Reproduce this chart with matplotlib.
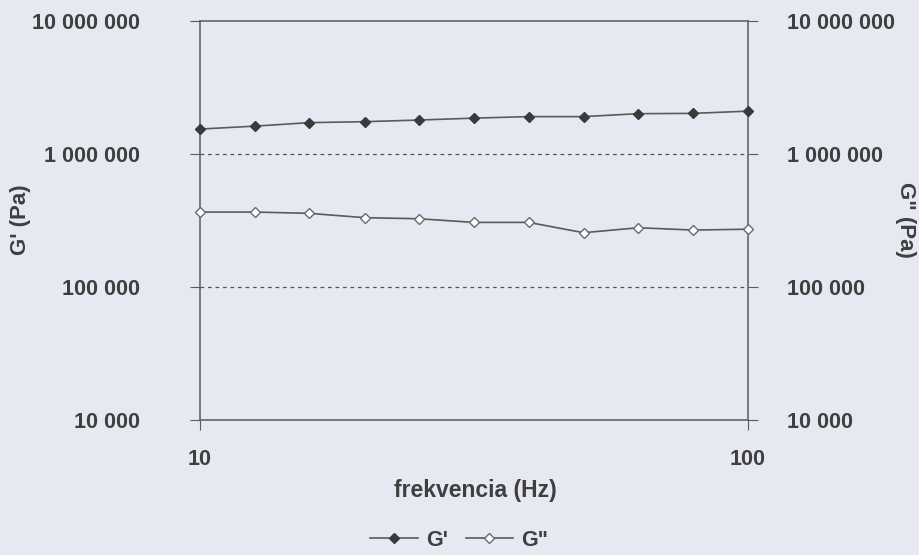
import matplotlib.pyplot as plt
from matplotlib.ticker import FixedLocator, FixedFormatter, NullLocator
import numpy as np

# frequency sweep (log-spaced points)
freq = [10, 12.6, 15.8, 20.0, 25.1, 31.6, 39.8, 50.1, 63.1, 79.4, 100]
g_storage = [1540000, 1620000, 1720000, 1750000, 1800000, 1860000,
             1910000, 1910000, 2010000, 2020000, 2100000]
g_loss = [366000, 366000, 358000, 332000, 326000, 306000,
          306000, 256000, 279000, 268000, 272000]

y_ticks = [1e4, 1e5, 1e6, 1e7]
y_labels = ['10 000', '100 000', '1 000 000', '10 000 000']
x_ticks = [10, 100]
x_labels = ['10', '100']

bg = '#e7e9f2'
ink = '#3f3f3f'
line_col = '#5a5a5a'

plt.rcParams['font.family'] = ['Liberation Sans', 'DejaVu Sans']
plt.rcParams['font.weight'] = 'bold'

fig = plt.figure(figsize=(9.19, 5.55), dpi=100, facecolor=bg)
ax = fig.add_axes([0.2176, 0.2432, 0.5964, 0.7190])
ax.set_facecolor(bg)

ax.plot(freq, g_storage, color=line_col, lw=1.2, marker='D', ms=5.6,
        mfc='#3a3a3a', mec='#3a3a3a', label="G'", clip_on=False, zorder=4)
ax.plot(freq, g_loss, color=line_col, lw=1.2, marker='D', ms=5.6,
        mfc='white', mec='#6a6a6a', mew=1.0, label='G"', clip_on=False,
        zorder=4)

ax.set_xscale('log')
ax.set_yscale('log')
ax.set_xlim(10, 100)
ax.set_ylim(1e4, 1e7)

ax.xaxis.set_major_locator(FixedLocator(x_ticks))
ax.xaxis.set_major_formatter(FixedFormatter(x_labels))
ax.xaxis.set_minor_locator(NullLocator())
ax.yaxis.set_major_locator(FixedLocator(y_ticks))
ax.yaxis.set_major_formatter(FixedFormatter(y_labels))
ax.yaxis.set_minor_locator(NullLocator())

for yv in y_ticks[1:-1]:
    ax.axhline(yv, color='#555555', lw=0.9, ls=(0, (3, 3)))

for sp in ax.spines.values():
    sp.set_color(line_col)
    sp.set_linewidth(1.1)

ax.tick_params(axis='y', direction='out', length=7, color=line_col,
               labelsize=15.5, labelcolor=ink, pad=36)
ax.tick_params(axis='x', direction='out', length=7, color=line_col,
               labelsize=15.5, labelcolor=ink, pad=14)

ax2 = ax.twinx()
ax2.set_yscale('log')
ax2.set_ylim(1e4, 1e7)
ax2.yaxis.set_major_locator(FixedLocator(y_ticks))
ax2.yaxis.set_major_formatter(FixedFormatter(y_labels))
ax2.yaxis.set_minor_locator(NullLocator())
ax2.tick_params(axis='y', direction='out', length=7, color=line_col,
                labelsize=15.5, labelcolor=ink, pad=21)
for sp in ax2.spines.values():
    sp.set_visible(False)

fig.text(0.022, 0.604, "G' (Pa)", rotation=90, ha='center', va='center',
         fontsize=16, color=ink)
fig.text(0.985, 0.604, 'G" (Pa)', rotation=-90, ha='center', va='center',
         fontsize=16, color=ink)
fig.text(0.517, 0.117, 'frekvencia (Hz)', ha='center', va='center',
         fontsize=16.5, color=ink)

leg = fig.legend(loc='center', bbox_to_anchor=(0.5, 0.027), ncol=2,
                 frameon=False, fontsize=15.5, handlelength=2.2,
                 columnspacing=0.8, handletextpad=0.4, borderpad=0.1)
for t in leg.get_texts():
    t.set_color(ink)

fig.savefig('out.png', dpi=100, facecolor=bg)
